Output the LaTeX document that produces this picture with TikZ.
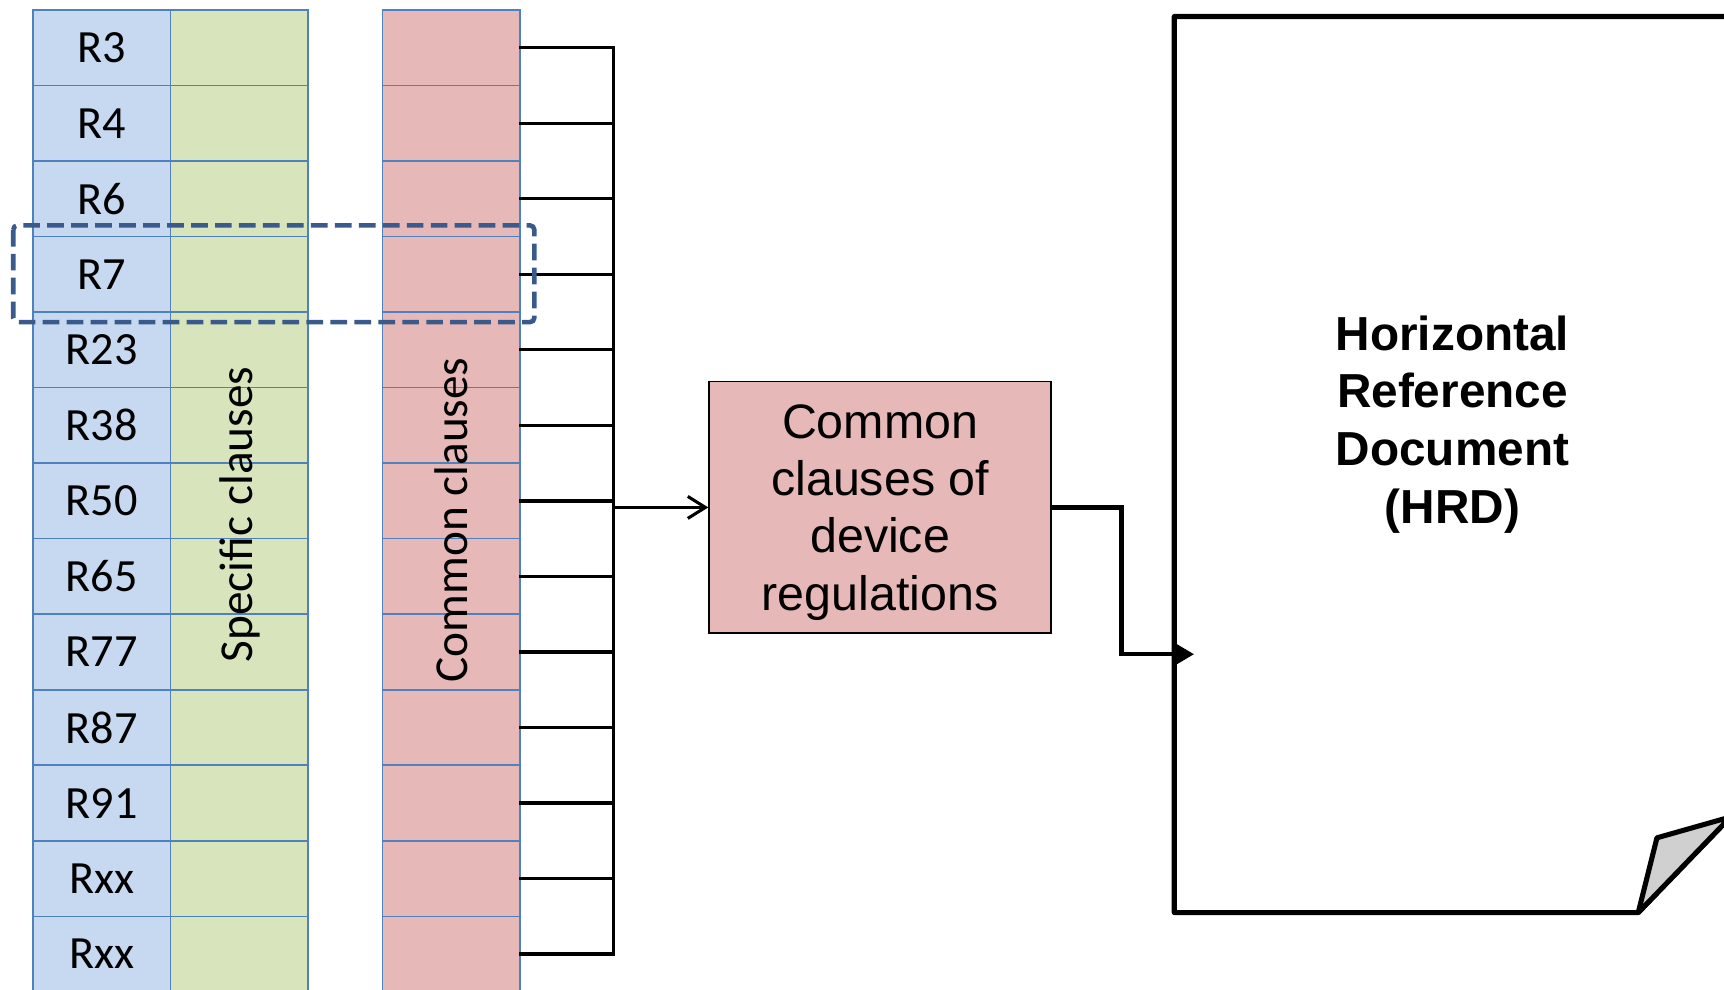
\documentclass[tikz,border=0pt]{standalone}
\usepackage{fontspec}
\setmainfont{Carlito}
\newfontfamily\arialf{Liberation Sans}
\usetikzlibrary{arrows.meta}
\definecolor{cellblue}{HTML}{C6D9F0}
\definecolor{cellgreen}{HTML}{D7E4BC}
\definecolor{cellpink}{HTML}{E6B8B7}
\definecolor{cellborder}{HTML}{4F81BD}
\definecolor{dashblue}{HTML}{3A5A8C}
\definecolor{foldgray}{HTML}{D0D0D0}
\tikzset{
  cellbase/.style={draw=cellborder, line width=0.75pt, minimum width=62.5pt, minimum height=34.35pt, inner sep=0pt, anchor=center, font=\fontsize{21}{25}\selectfont},
  bluecell/.style={cellbase, fill=cellblue},
  greencell/.style={cellbase, fill=cellgreen},
  pinkcell/.style={cellbase, fill=cellpink},
  colabel/.style={rotate=90, font=\fontsize{21.5}{25}\selectfont, inner sep=0pt},
  feeder/.style={line width=1.5pt, line cap=rect},
  boxstyle/.style={draw=black, line width=0.8pt, fill=cellpink, minimum width=155.5pt, minimum height=114.5pt, inner sep=0pt, align=center, font=\arialf\fontsize{22}{26}\selectfont},
  hrdtext/.style={align=center, inner sep=0pt, font=\arialf\bfseries\fontsize{21.7}{26.3}\selectfont},
  pageline/.style={line width=2.3pt, line join=round},
  selbox/.style={draw=dashblue, line width=2.1pt, dash pattern=on 7.6pt off 3.3pt, rounded corners=2pt}
}
\begin{document}
\begin{tikzpicture}[x=0.5pt,y=-0.5pt]
\useasboundingbox (0,0) rectangle (1568,900);
\clip (0,0) rectangle (1568,900);
% cells
\foreach \lab [count=\i] in {R3,R4,R6,R7,R23,R38,R50,R65,R77,R87,R91,Rxx,Rxx}{
  \pgfmathsetmacro{\yc}{9+68.7*(\i-0.5)}
  \node[bluecell] (b\i) at (92.5,\yc) {\lab};
  \node[greencell] (g\i) at (217.5,\yc) {};
  \node[pinkcell] (p\i) at (410.5,\yc) {};
}
\node[colabel] (spec) at (218,468) {Specific clauses};
\node[colabel] (comm) at (410,473) {Common clauses};
% bus
\coordinate (bustop) at (558,43);
\foreach \i in {1,...,13}{
  \draw[feeder] (p\i.east) -- (p\i.east -| bustop);
}
\draw[feeder] (p1.east -| bustop) -- (p13.east -| bustop);
% central box
\node[boxstyle] (box) at (800.5,461.5) {};
\node[align=center, inner sep=0pt, font=\arialf\fontsize{22}{26}\selectfont] (boxtext) at (800.5,466) {Common\\clauses of\\device\\regulations};
\draw[line width=1.4pt, -{Straight Barb[length=8pt,width=10pt,line width=1.4pt]}] (box.west -| bustop) -- (box.west);
% page
\coordinate (pTR) at (1600,15);
\coordinate (pTL) at (1068,15);
\coordinate (pBL) at (1068,830);
\coordinate (pBR) at (1490,830);
\coordinate (fold) at (1507,762);
\coordinate (pRE) at (1574,743);
\draw[pageline] (pTR) -- (pTL) -- (pBL) -- (pBR) -- (pRE) -- (1574,15);
\draw[pageline, fill=foldgray] (pBR) -- (fold) -- (pRE) -- cycle;
\node[hrdtext] (hrd) at (1321,386) {Horizontal\\Reference\\Document\\(HRD)};
% arrow to page
\coordinate (elbow) at (1020,595);
\coordinate (tipend) at (1086,595);
\draw[line width=2pt, -{Triangle[length=9pt,width=10pt]}] (box.east) -| (elbow) -- (tipend);
% selection
\draw[selbox] (12,205) rectangle (486,293);
\end{tikzpicture}
\end{document}
